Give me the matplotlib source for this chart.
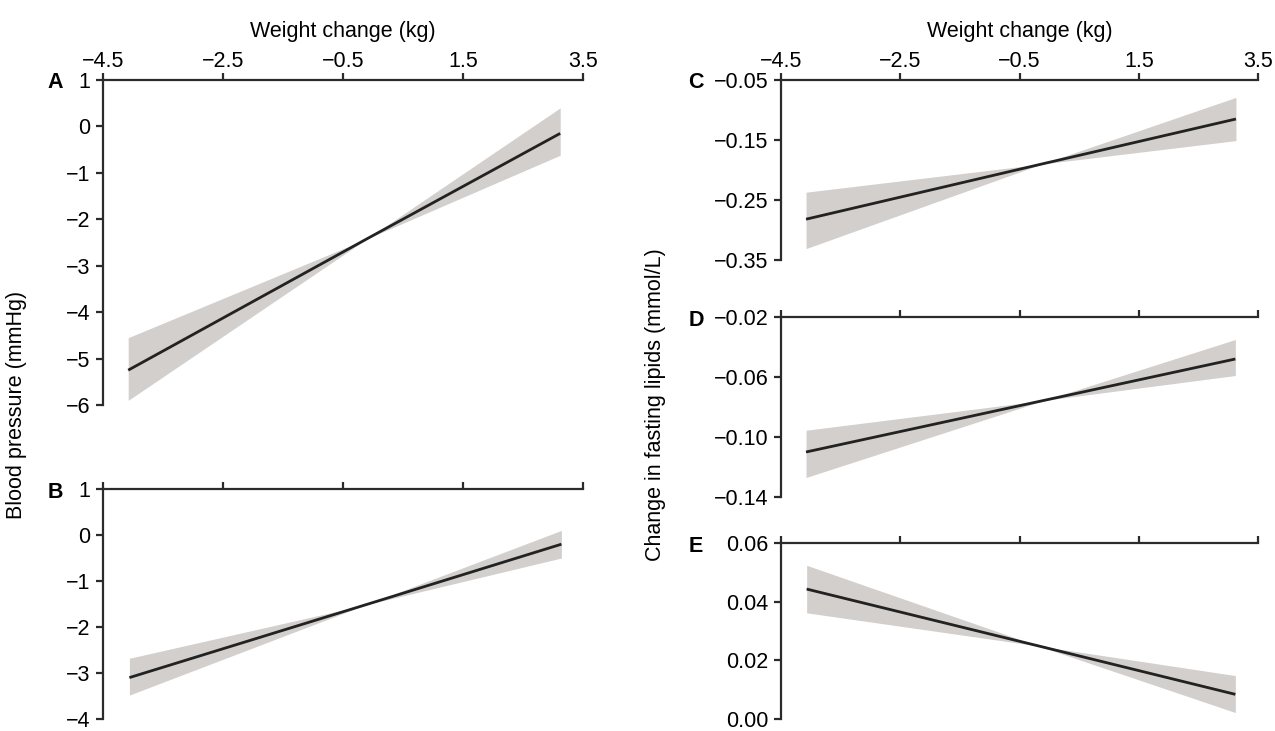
import matplotlib
matplotlib.use("Agg")
import matplotlib.pyplot as plt

plt.rcParams['font.family'] = ['Liberation Sans', 'DejaVu Sans']
plt.rcParams['font.size'] = 15.5

# weight change ticks (kg)
xticks = [-4.5, -2.5, -0.5, 1.5, 3.5]

# A: systolic blood pressure
A_x = [-4.08, -0.1, 3.12]
A_fit = [-5.25, -2.42, -0.15]
A_lo = [-5.9, -2.42, -0.62]
A_hi = [-4.55, -2.42, 0.4]
A_yticks = [1, 0, -1, -2, -3, -4, -5, -6]

# B: diastolic blood pressure
B_x = [-4.06, -0.13, 3.14]
B_fit = [-3.1, -1.52, -0.2]
B_lo = [-3.48, -1.52, -0.5]
B_hi = [-2.68, -1.52, 0.1]
B_yticks = [1, 0, -1, -2, -3, -4]

# C, D, E: fasting lipids
C_x = [-4.08, -0.125, 3.13]
C_fit = [-0.282, -0.190, -0.115]
C_lo = [-0.331, -0.190, -0.151]
C_hi = [-0.237, -0.190, -0.079]
C_yticks = [-0.05, -0.15, -0.25, -0.35]

D_x = [-4.08, -0.09, 3.12]
D_fit = [-0.110, -0.0756, -0.048]
D_lo = [-0.127, -0.0756, -0.059]
D_hi = [-0.0955, -0.0756, -0.035]
D_yticks = [-0.02, -0.06, -0.10, -0.14]

E_x = [-4.07, -0.18, 3.12]
E_fit = [0.0443, 0.0249, 0.0084]
E_lo = [0.0362, 0.0249, 0.0022]
E_hi = [0.0524, 0.0249, 0.0148]
E_yticks = [0.06, 0.04, 0.02, 0.00]

W, H = 1275, 731
fig = plt.figure(figsize=(W / 100, H / 100), dpi=100)


def box(left, right, top, bottom):
    return [left / W, 1 - bottom / H, (right - left) / W, (bottom - top) / H]


panels = [
    ("A", 55, 80, box(103, 583, 80, 405), A_x, A_fit, A_lo, A_hi, A_yticks, "{:.0f}", True),
    ("B", 55, 489, box(103, 583, 489, 719), B_x, B_fit, B_lo, B_hi, B_yticks, "{:.0f}", False),
    ("C", 696, 80, box(781, 1258, 80, 260), C_x, C_fit, C_lo, C_hi, C_yticks, "{:.2f}", True),
    ("D", 696, 317, box(781, 1258, 317, 497), D_x, D_fit, D_lo, D_hi, D_yticks, "{:.2f}", False),
    ("E", 696, 543, box(781, 1258, 543, 719), E_x, E_fit, E_lo, E_hi, E_yticks, "{:.2f}", False),
]

dark = '#2b2b2b'
for letter, lx, ly, pos, x, fit, lo, hi, yt, fmt, show_x in panels:
    ax = fig.add_axes(pos)
    ax.fill_between(x, lo, hi, color='#d2cfcd', lw=0)
    ax.plot(x, fit, color='#222222', lw=2.0, solid_capstyle='butt')
    ax.set_xlim(-4.5, 3.5)
    ax.set_ylim(min(yt), max(yt))
    ax.spines['bottom'].set_visible(False)
    ax.spines['right'].set_visible(False)
    for s in ['top', 'left']:
        ax.spines[s].set_linewidth(1.6)
        ax.spines[s].set_color(dark)
    ax.xaxis.tick_top()
    ax.set_xticks(xticks)
    ax.set_yticks(yt)
    ax.set_yticklabels([fmt.format(v).replace('-', '\u2212') for v in yt])
    if show_x:
        ax.set_xticklabels([('%.1f' % v).replace('-', '\u2212') for v in xticks])
        ax.set_xlabel('Weight change (kg)', labelpad=10)
        ax.xaxis.set_label_position('top')
    else:
        ax.set_xticklabels([])
    ax.tick_params(axis='x', direction='out', length=5, width=1.6, color=dark, pad=1)
    ax.tick_params(axis='y', direction='out', length=5, width=1.6, color=dark, pad=4)
    fig.text(lx / W, 1 - (ly + 3) / H, letter, ha='center', va='center',
             fontweight='bold', fontsize=15.5)

fig.text(17 / W, 1 - 405 / H, 'Blood pressure (mmHg)', rotation=90, ha='center', va='center')
fig.text(656 / W, 1 - 405 / H, 'Change in fasting lipids (mmol/L)', rotation=90, ha='center', va='center')

fig.savefig('out.png', dpi=100)
